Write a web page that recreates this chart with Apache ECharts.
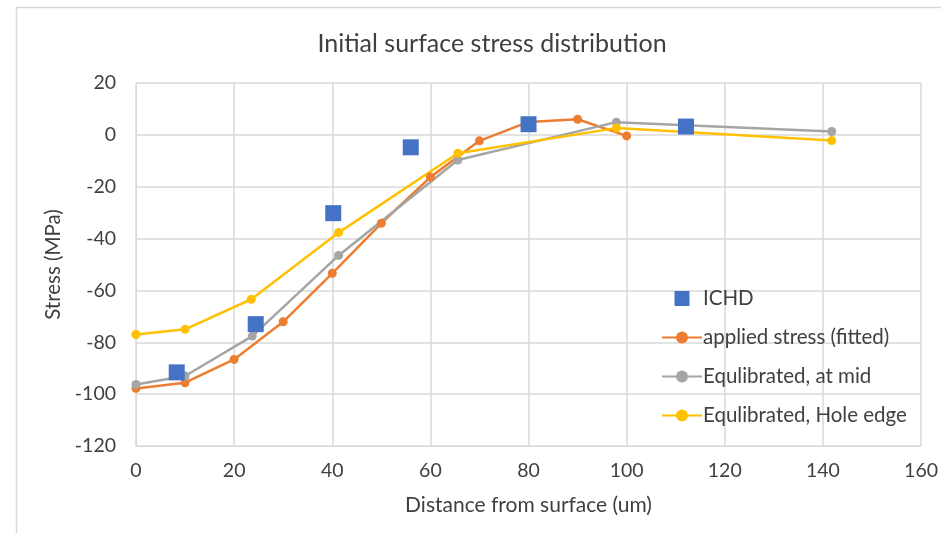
<!DOCTYPE html>
<html>
<head>
<meta charset="utf-8">
<script src="https://cdn.jsdelivr.net/npm/echarts@6/dist/echarts.min.js"></script>
<style>html,body{margin:0;padding:0;background:#fff;}#c{width:941px;height:533px;}</style>
</head>
<body>
<div id="c"></div>
<script>
var ichdX = [8.3, 24.4, 40.2, 56, 80, 112.1];
var ichdY = [-91.6, -73, -30.2, -4.8, 4.1, 3.2];

var appliedX = [0, 10, 20, 30, 40, 50, 60, 70, 80, 90, 100];
var appliedY = [-97.8, -95.6, -86.6, -72.1, -53.4, -34.1, -16.3, -2.3, 5, 6, -0.4];

var midX = [0, 10, 23.7, 41.3, 65.6, 97.9, 141.8];
var midY = [-96.3, -93, -77.6, -46.5, -9.7, 4.9, 1.3];

var edgeX = [0, 10, 23.5, 41.3, 65.6, 97.9, 141.8];
var edgeY = [-77, -75, -63.4, -37.7, -7.1, 2.6, -2.2];

var seriesNames = ['ICHD', 'applied stress (fitted)', 'Equlibrated, at mid', 'Equlibrated, Hole edge'];

function pairs(xs, ys) { return xs.map(function (x, i) { return [x, ys[i]]; }); }

var font = 'Lato';
var txt = '#404040';
var chart = echarts.init(document.getElementById('c'));
chart.setOption({
  animation: false,
  backgroundColor: '#fff',
  title: {
    text: 'Initial surface stress distribution',
    left: 487, top: 26, textAlign: 'center',
    textStyle: { fontFamily: font, fontSize: 25, fontWeight: 'normal', color: txt }
  },
  graphic: [
    { type: 'line', shape: { x1: 16, y1: 7.5, x2: 941, y2: 7.5 }, style: { stroke: '#d9d9d9', lineWidth: 1.5 } },
    { type: 'line', shape: { x1: 16.5, y1: 7, x2: 16.5, y2: 533 }, style: { stroke: '#d9d9d9', lineWidth: 1.5 } }
  ],
  grid: { left: 136, right: 17, top: 83, bottom: 87 },
  legend: {
    orient: 'vertical', left: 656, top: 283, itemGap: 18, itemWidth: 40, itemHeight: 15,
    data: [
      { name: seriesNames[0], icon: 'path://M0,0h10v10h-10z' },
      { name: seriesNames[1] },
      { name: seriesNames[2] },
      { name: seriesNames[3] }
    ],
    textStyle: { fontFamily: font, fontSize: 20.5, color: txt, padding: [0, 0, 0, -4] }
  },
  xAxis: {
    type: 'value', min: 0, max: 160, interval: 20,
    name: 'Distance from surface (um)', nameLocation: 'middle', nameGap: 49,
    nameTextStyle: { fontFamily: font, fontSize: 21, color: txt },
    axisLine: { show: true, onZero: false, lineStyle: { color: '#d9d9d9' } },
    axisTick: { show: false },
    axisLabel: { fontFamily: font, fontSize: 19.5, color: txt, margin: 15 },
    splitLine: { show: true, lineStyle: { color: '#d9d9d9', width: 1.5 } }
  },
  yAxis: {
    type: 'value', min: -120, max: 20, interval: 20,
    name: 'Stress (MPa)', nameLocation: 'middle', nameGap: 71,
    nameTextStyle: { fontFamily: font, fontSize: 20.5, color: txt },
    axisLine: { show: true, lineStyle: { color: '#d9d9d9' } },
    axisTick: { show: false },
    axisLabel: { fontFamily: font, fontSize: 19.5, color: txt, margin: 20 },
    splitLine: { show: true, lineStyle: { color: '#d9d9d9', width: 1.5 } }
  },
  series: [
    {
      name: seriesNames[0], type: 'scatter', data: pairs(ichdX, ichdY), z: 5,
      symbol: 'rect', symbolSize: 16, itemStyle: { color: '#4472C4', opacity: 1 }
    },
    {
      name: seriesNames[1], type: 'line', data: pairs(appliedX, appliedY), z: 3,
      symbol: 'circle', symbolSize: 9, showAllSymbol: true,
      lineStyle: { color: '#ED7D31', width: 2.5 }, itemStyle: { color: '#ED7D31' }
    },
    {
      name: seriesNames[2], type: 'line', data: pairs(midX, midY), z: 3,
      symbol: 'circle', symbolSize: 9, showAllSymbol: true,
      lineStyle: { color: '#A5A5A5', width: 2.5 }, itemStyle: { color: '#A5A5A5' }
    },
    {
      name: seriesNames[3], type: 'line', data: pairs(edgeX, edgeY), z: 3,
      symbol: 'circle', symbolSize: 9, showAllSymbol: true,
      lineStyle: { color: '#FFC000', width: 2.5 }, itemStyle: { color: '#FFC000' }
    }
  ]
});
</script>
</body>
</html>
